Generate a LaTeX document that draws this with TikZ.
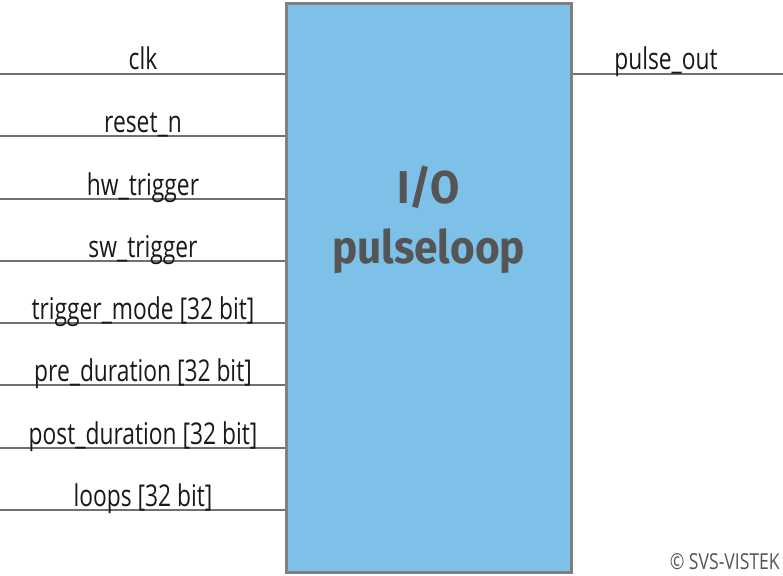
\documentclass[tikz,border=0pt]{standalone}
\usepackage{fontspec}
\setmainfont[FakeStretch=0.76]{Open Sans}
\newfontfamily\titlefont[FakeStretch=0.92]{Fira Sans}
\newfontfamily\copyfont[FakeStretch=0.8]{Open Sans}
\definecolor{boxblue}{RGB}{125,193,232}
\definecolor{boxgray}{RGB}{128,128,128}
\definecolor{linegray}{RGB}{112,112,112}
\definecolor{titlegray}{RGB}{85,85,85}
\tikzset{
  sig/.style={draw=linegray, line width=2pt},
  siglabel/.style={anchor=base, inner sep=0pt, font=\fontsize{30}{32}\selectfont, text=black!90},
  blockbox/.style={draw=boxgray, fill=boxblue, line width=3pt, minimum width=285pt, minimum height=568pt, inner sep=0pt},
}
\begin{document}
\begin{tikzpicture}[x=1pt,y=1pt]
\useasboundingbox (0,0) rectangle (783,-575);
\node[blockbox] (blk) at (428.5,-288) {};
\node[text=titlegray, align=center, font=\titlefont\bfseries\fontsize{46}{60}\selectfont] (title) at (428.5,-220) {I/O\\pulseloop};
% inputs
\foreach \n/\y/\t in {a/74/clk, b/136/reset\_n, c/199/hw\_trigger, d/261/sw\_trigger, e/323/trigger\_mode [32 bit], f/385/pre\_duration [32 bit], g/448/post\_duration [32 bit], h/510/loops [32 bit]}{
  \coordinate (in\n) at (0,-\y);
  \draw[sig] (in\n) -- (in\n -| blk.west);
  \node[siglabel] (lab\n) at (143,-\y+4) {\t};
}
\coordinate (outa) at (783,-74);
\draw[sig] (outa -| blk.east) -- (outa);
\node[siglabel] (labout) at (666,-70) {pulse\_out};
\node[anchor=base east, inner sep=0pt, text=titlegray, font=\copyfont\fontsize{22}{24}\selectfont] (copy) at (780,-569) {\textcopyright{} SVS-VISTEK};
\end{tikzpicture}
\end{document}
